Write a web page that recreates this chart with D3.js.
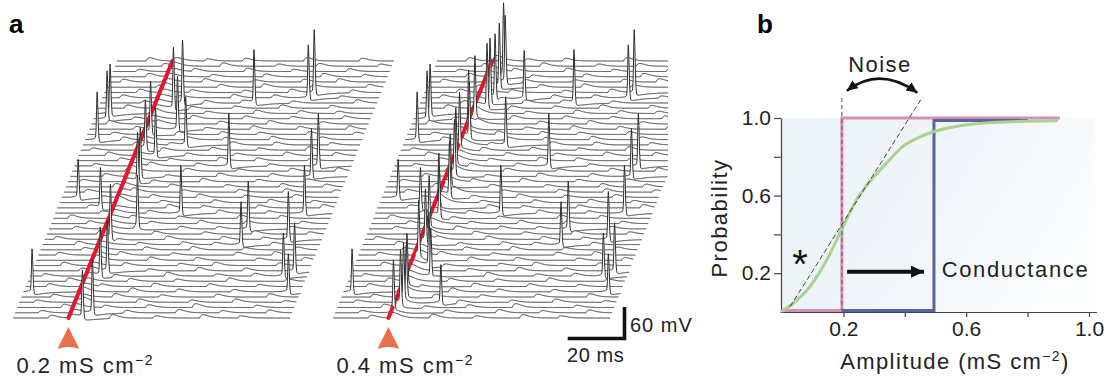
<!DOCTYPE html>
<html>
<head>
<meta charset="utf-8">
<script src="https://cdn.jsdelivr.net/npm/d3@7"></script>
<style>
  html, body { margin: 0; padding: 0; background: #fff; }
  svg { display: block; font-family: "Liberation Sans", Arial, Helvetica, sans-serif; }
</style>
</head>
<body>
<svg id="fig" width="1111" height="378"></svg>
<script>
// ---------------- Panel a data: stacked membrane-potential traces ----------------
const traceCount = 50;          // sweeps per stack
const traceDuration = 95;       // ms per sweep
const stimulusTime = 19;        // ms, time of the conductance pulse
const conductanceLabels = ["0.2", "0.4"];   // mS cm-2
const stimulusPsp = [6, 10];    // mV, subthreshold response to the pulse

// spontaneous spikes, identical in both stacks: [sweep, time ms, amplitude mV]
const backgroundSpikes = [
  [5, 2.9, 73], [23, 5.6, 64], [34, 4.1, 82], [38, 4.6, 82], [39, 4.9, 85],
  [21, 14.7, 67], [29, 52.9, 91], [41, 52.8, 91], [42, 70.7, 91], [43, 72.0, 109],
  [29, 83.6, 91], [27, 82.7, 82], [20, 85.4, 82], [17, 68.3, 82], [14, 68.0, 73],
  [15, 83.5, 82], [8, 86.9, 73], [9, 90.0, 82], [5, 90.8, 64], [20, 43.0, 82],
  [33, 35.2, 82]
];

// spikes evoked by the pulse: [sweep, time ms, amplitude mV]
const evokedSpikesLow = [
  [0, 23.8, 80], [1, 26.5, 91], [8, 24.1, 82], [9, 25.8, 87], [15, 22.5, 91],
  [17, 30.3, 87], [26, 23.8, 82], [27, 24.0, 82], [31, 26.3, 82], [32, 22.1, 82],
  [35, 21.7, 87], [36, 30.2, 91], [40, 25.9, 105], [41, 28.3, 109]
];
const evokedSpikesHigh = [
  [1, 20.0, 82], [2, 21.7, 91], [3, 22.0, 91], [4, 22.2, 82], [3, 34.8, 64],
  [6, 21.0, 82], [8, 27.7, 82], [10, 25.6, 91], [11, 21.4, 91], [14, 21.5, 87],
  [17, 20.6, 82], [19, 22.6, 82], [21, 21.0, 87], [23, 23.2, 91], [25, 22.0, 82],
  [27, 22.0, 91], [29, 21.0, 91], [32, 20.1, 91], [34, 22.0, 91], [36, 20.3, 91],
  [38, 21.0, 100], [40, 23.7, 109], [41, 24.0, 109], [42, 25.0, 109], [42, 35.0, 82],
  [44, 25.0, 109], [45, 26.3, 115], [46, 25.0, 127]
];

// synaptic potentials per sweep: [time ms, amplitude mV]
const synapticBumps = [
  [[12,5],[33,7],[48,4],[64,6],[77,4]],
  [[8,4],[37,5],[55,6],[70,4],[86,5]],
  [[15,6],[29,4],[44,5],[60,7],[81,4]],
  [[5,4],[21,5],[40,6],[58,4],[73,6],[90,3]],
  [[10,5],[31,6],[47,4],[66,5],[84,6]],
  [[18,4],[36,7],[52,5],[71,4]],
  [[7,5],[25,4],[43,6],[62,5],[79,4]],
  [[13,6],[34,5],[50,4],[68,6],[88,4]],
  [[4,4],[28,5],[46,7],[63,4],[76,5]],
  [[16,5],[39,4],[56,6],[72,5]],
  [[9,6],[30,5],[49,4],[61,6],[83,5]],
  [[20,4],[38,6],[54,5],[75,4],[91,5]],
  [[6,5],[27,6],[45,4],[67,5],[80,6]],
  [[14,4],[35,5],[51,6],[69,4],[87,5]],
  [[11,6],[32,4],[47,5],[58,4],[78,5]],
  [[3,5],[24,4],[41,6],[60,5],[74,4]],
  [[17,6],[36,5],[53,4],[70,6],[89,4]],
  [[8,4],[29,6],[44,5],[57,4],[82,5]],
  [[12,5],[33,4],[50,6],[66,5],[85,4]],
  [[5,6],[26,5],[42,4],[63,6],[77,5]],
  [[15,4],[31,5],[55,6],[72,4]],
  [[10,5],[37,6],[49,4],[68,5],[90,6]],
  [[19,6],[34,4],[52,5],[71,6],[86,4]],
  [[13,4],[30,5],[46,6],[62,4],[79,5]],
  [[7,5],[23,6],[40,4],[59,5],[75,6],[92,4]],
  [[16,6],[35,5],[54,4],[73,6],[88,5]],
  [[4,4],[28,5],[45,6],[64,4],[81,5]],
  [[11,5],[32,4],[50,6],[68,5]],
  [[18,6],[38,5],[56,4],[74,5],[90,6]],
  [[6,4],[25,6],[41,5],[66,4]],
  [[14,5],[31,4],[48,6],[61,5],[79,4]],
  [[9,6],[36,5],[53,4],[70,6],[87,5]],
  [[3,4],[27,6],[44,5],[60,4],[77,6]],
  [[17,5],[29,4],[50,6],[65,5],[84,4]],
  [[12,6],[34,5],[47,4],[63,6],[80,5]],
  [[8,4],[30,6],[45,5],[58,4],[75,5],[91,4]],
  [[15,5],[39,4],[55,6],[71,5],[88,6]],
  [[5,6],[22,4],[43,5],[60,6],[78,4]],
  [[13,4],[33,6],[51,5],[67,4],[85,5]],
  [[18,5],[37,4],[54,6],[69,5],[82,4]],
  [[9,6],[31,5],[46,4],[62,6],[79,5]],
  [[14,4],[35,6],[48,5],[65,4],[87,6]],
  [[6,5],[26,4],[44,6],[58,5],[81,4]],
  [[11,6],[29,5],[47,4],[63,6],[84,5]],
  [[17,4],[38,5],[53,6],[70,4],[89,5]],
  [[4,5],[32,6],[49,4],[66,5],[78,6]],
  [[12,6],[34,4],[52,5],[72,6],[86,4]],
  [[8,4],[27,5],[45,6],[61,4],[80,5]],
  [[16,5],[36,6],[55,4],[69,5],[90,4]],
  [[10,6],[30,4],[43,5],[64,6],[83,5]]
];

const scaleBarTime = 20;   // ms
const scaleBarVolt = 60;   // mV

// ---------------- Panel b data: detection probability ----------------
const probTicks = [0.2, 0.4, 0.6, 0.8, 1.0];
const probTickLabels = ["0.2", "", "0.6", "", "1.0"];
const ampTicks = [0.2, 0.4, 0.6, 0.8, 1.0];
const ampTickLabels = ["0.2", "", "0.6", "", "1.0"];
const thresholdStep = [[0, 0.008], [0.195, 0.008], [0.195, 1.0], [0.905, 1.0]];
const shiftedStep = [[0.195, 0.008], [0.495, 0.008], [0.495, 0.987], [0.8, 0.987]];
const noisyResponse = [
  [0, 0.005], [0.037, 0.045], [0.091, 0.131], [0.146, 0.269], [0.194, 0.424],
  [0.243, 0.579], [0.287, 0.674], [0.341, 0.769], [0.395, 0.855], [0.45, 0.903],
  [0.493, 0.929], [0.58, 0.96], [0.688, 0.977], [0.895, 0.986]
];
const noiseSlope = [[0.026, 0.027], [0.458, 1.109]];
const thresholdMarker = [[0.195, 0], [0.195, 1.12]];
const noiseArc = [[0.211, 1.14], [0.319, 1.27], [0.441, 1.13]];
const conductanceArrow = [[0.212, 0.208], [0.482, 0.208]];

// ---------------- drawing ----------------
const svg = d3.select("#fig");
const defs = svg.append("defs");
const ink = "#222";
const labelFont = 22;

// waveform pieces
function psp(s, amp, tau) {
  return s <= 0 ? 0 : amp * (s / tau) * Math.exp(1 - s / tau);
}
function spikeWave(s, amp) {
  if (s < 0) return amp * Math.exp(-((s / 0.28) ** 2)) + 5 * Math.exp(s / 1.2);
  return amp * Math.exp(-((s / 0.42) ** 2)) + 5 * Math.exp(-s / 0.35)
    - 7 * (1 - Math.exp(-s / 0.5)) * Math.exp(-s / 5);
}
function voltageAt(t, bumps, spikes, pulse) {
  let v = psp(t - stimulusTime, pulse, 1.6);
  for (const [tb, a] of bumps) v += psp(t - tb, a, 1.3);
  for (const [ts, a] of spikes) v += spikeWave(t - ts, a);
  return v;
}

const sweepWidth = 277;
const tScale = d3.scaleLinear().domain([0, traceDuration]).range([0, sweepWidth]);
const vScale = d3.scaleLinear().domain([0, 100]).range([0, -55]);
const rowY = d3.scaleLinear().domain([0, traceCount - 1]).range([318, 61]);
const sampleTimes = d3.range(0, traceDuration + 1e-9, 0.1);

const traceLine = d3.line().x(d => tScale(d[0])).y(d => vScale(d[1]));
const traceArea = d3.area().x(d => tScale(d[0])).y0(vScale(-8)).y1(d => vScale(d[1]));

const stacks = [
  { left: 13, top: 117, evoked: evokedSpikesLow, pulse: stimulusPsp[0], label: conductanceLabels[0], clipRight: null },
  { left: 333, top: 437, evoked: evokedSpikesHigh, pulse: stimulusPsp[1], label: conductanceLabels[1], clipRight: 668 }
];

stacks.forEach((st, k) => {
  const rowX = d3.scaleLinear().domain([0, traceCount - 1]).range([st.left, st.top]);
  const g = svg.append("g");
  if (st.clipRight) {
    defs.append("clipPath").attr("id", "stackClip" + k)
      .append("rect").attr("x", 0).attr("y", 0).attr("width", st.clipRight).attr("height", 378);
    g.attr("clip-path", `url(#stackClip${k})`);
  }
  for (let i = traceCount - 1; i >= 0; i--) {
    const spikes = backgroundSpikes.concat(st.evoked)
      .filter(s => s[0] === i).map(s => [s[1], s[2]]);
    const pts = sampleTimes.map(t => [t, voltageAt(t, synapticBumps[i], spikes, st.pulse)]);
    const row = g.append("g").attr("transform", `translate(${rowX(i)},${rowY(i)})`);
    row.append("path").attr("d", traceArea(pts)).attr("fill", "#fff");
    row.append("path").attr("d", traceLine(pts))
      .attr("fill", "none").attr("stroke", "#2e2e2e")
      .attr("stroke-width", 1).attr("stroke-linejoin", "round");
    if (i < traceCount - 1) {
      g.append("line")
        .attr("x1", rowX(i) + tScale(stimulusTime)).attr("y1", rowY(i))
        .attr("x2", rowX(i + 1) + tScale(stimulusTime)).attr("y2", rowY(i + 1))
        .attr("stroke", "#e3182d").attr("stroke-width", 4).attr("stroke-linecap", "round");
    }
  }
  // stimulus marker and amplitude label
  const ax = rowX(0) + tScale(stimulusTime);
  const p = d3.path();
  p.moveTo(ax, 327); p.lineTo(ax + 11, 349); p.quadraticCurveTo(ax, 345, ax - 11, 349); p.closePath();
  svg.append("path").attr("d", p.toString()).attr("fill", "#e8714d");
  const lab = svg.append("text").attr("x", ax - 52).attr("y", 373)
    .attr("font-size", labelFont).attr("letter-spacing", 1.5).attr("fill", ink);
  lab.append("tspan").text(st.label + " mS cm");
  lab.append("tspan").attr("dy", -8).attr("font-size", 14).text("\u22122");
});

// scale bar
const sb = svg.append("g").attr("transform", "translate(626,340)");
sb.append("line").attr("x1", -tScale(scaleBarTime)).attr("x2", 0).attr("y1", -1.5).attr("y2", -1.5)
  .attr("stroke", "#111").attr("stroke-width", 3.6);
sb.append("line").attr("x1", -1.5).attr("x2", -1.5).attr("y1", 0).attr("y2", vScale(scaleBarVolt))
  .attr("stroke", "#111").attr("stroke-width", 3.6);
sb.append("text").attr("x", 4).attr("y", -8).attr("font-size", 20).attr("letter-spacing", 1)
  .attr("fill", ink).text(scaleBarVolt + " mV");
sb.append("text").attr("x", -59).attr("y", 22).attr("font-size", 20).attr("letter-spacing", 0.6)
  .attr("fill", ink).text(scaleBarTime + " ms");

// panel letters
svg.append("text").attr("x", 9).attr("y", 33).attr("font-size", 26).attr("font-weight", "bold").text("a");
svg.append("text").attr("x", 757).attr("y", 33).attr("font-size", 26).attr("font-weight", "bold").text("b");

// ---------------- Panel b ----------------
const xAmp = d3.scaleLinear().domain([0, 1]).range([782, 1089]);
const yProb = d3.scaleLinear().domain([0, 1]).range([312, 118]);

const grad = defs.append("linearGradient").attr("id", "plotBg")
  .attr("x1", "0").attr("y1", "0.3").attr("x2", "1").attr("y2", "0.7");
grad.append("stop").attr("offset", "0").attr("stop-color", "#eaf1f7");
grad.append("stop").attr("offset", "0.55").attr("stop-color", "#f3f6fa");
grad.append("stop").attr("offset", "1").attr("stop-color", "#fdfeff");

svg.append("rect")
  .attr("x", xAmp(0)).attr("y", yProb(1))
  .attr("width", xAmp(1.02) - xAmp(0)).attr("height", yProb(0) - yProb(1))
  .attr("fill", "url(#plotBg)");

const pb = svg.append("g");
const yAxisG = pb.append("g").attr("transform", `translate(${xAmp(0) - 1},0)`)
  .call(d3.axisLeft(yProb).tickValues(probTicks).tickSize(7).tickSizeOuter(0).tickPadding(3)
    .tickFormat((d, i) => probTickLabels[i]));
const xAxisG = pb.append("g").attr("transform", `translate(0,${yProb(0)})`)
  .call(d3.axisBottom(xAmp).tickValues(ampTicks).tickSize(5).tickSizeOuter(0).tickPadding(4)
    .tickFormat((d, i) => ampTickLabels[i]));
xAxisG.select(".domain").remove();
xAxisG.append("line").attr("x1", xAmp(0) - 1.5).attr("x2", xAmp(1.026)).attr("y1", 0.5).attr("y2", 0.5)
  .attr("stroke", "#444").attr("stroke-width", 1.2);
[yAxisG, xAxisG].forEach(ax => {
  ax.attr("font-family", null).attr("font-size", 21);
  ax.selectAll(".domain, .tick line").attr("stroke", "#444").attr("stroke-width", 1.2);
  ax.selectAll(".tick text").attr("fill", ink);
});

const stepLine = d3.line().x(d => xAmp(d[0])).y(d => yProb(d[1]));
pb.append("path").attr("d", stepLine(thresholdStep)).attr("fill", "none")
  .attr("stroke", "#d48fb2").attr("stroke-width", 3);
pb.append("path").attr("d", stepLine(shiftedStep)).attr("fill", "none")
  .attr("stroke", "#56649f").attr("stroke-width", 3);
pb.append("path").attr("d", d3.line().x(d => xAmp(d[0])).y(d => yProb(d[1])).curve(d3.curveMonotoneX)(noisyResponse))
  .attr("fill", "none").attr("stroke", "#a6d38d").attr("stroke-width", 3).attr("stroke-linecap", "round");
pb.append("path").attr("d", stepLine(thresholdMarker)).attr("fill", "none")
  .attr("stroke", "#6e6e6e").attr("stroke-width", 1.2).attr("stroke-dasharray", "4,3");
pb.append("path").attr("d", stepLine(noiseSlope)).attr("fill", "none")
  .attr("stroke", "#444").attr("stroke-width", 1).attr("stroke-dasharray", "5,3");

// arrowheads
function arrowMarker(id, len, half) {
  defs.append("marker").attr("id", id)
    .attr("viewBox", `0 ${-half} ${len} ${2 * half}`)
    .attr("refX", len).attr("refY", 0)
    .attr("markerWidth", len).attr("markerHeight", 2 * half)
    .attr("markerUnits", "userSpaceOnUse")
    .attr("orient", "auto-start-reverse")
    .append("path").attr("d", `M0,${-half}L${len},0L0,${half}Z`).attr("fill", "#111");
}
arrowMarker("arrowNoise", 11, 5);
arrowMarker("arrowCond", 13, 6);

const arcPath = d3.path();
arcPath.moveTo(xAmp(noiseArc[0][0]), yProb(noiseArc[0][1]));
arcPath.quadraticCurveTo(xAmp(noiseArc[1][0]), yProb(noiseArc[1][1]), xAmp(noiseArc[2][0]), yProb(noiseArc[2][1]));
pb.append("path").attr("d", arcPath.toString()).attr("fill", "none")
  .attr("stroke", "#111").attr("stroke-width", 2.6)
  .attr("marker-start", "url(#arrowNoise)").attr("marker-end", "url(#arrowNoise)");

pb.append("line")
  .attr("x1", xAmp(conductanceArrow[0][0])).attr("y1", yProb(conductanceArrow[0][1]))
  .attr("x2", xAmp(conductanceArrow[1][0]) - 6).attr("y2", yProb(conductanceArrow[1][1]))
  .attr("stroke", "#111").attr("stroke-width", 4)
  .attr("marker-end", "url(#arrowCond)");

// annotations
pb.append("text").attr("x", xAmp(0.52)).attr("y", yProb(conductanceArrow[0][1]) + 5.5)
  .attr("font-size", labelFont).attr("textLength", 146).attr("lengthAdjust", "spacing")
  .attr("fill", ink).text("Conductance");
pb.append("text").attr("x", xAmp(noiseArc[1][0])).attr("y", 72).attr("text-anchor", "middle")
  .attr("font-size", labelFont).attr("letter-spacing", 1.4).attr("fill", ink).text("Noise");
pb.append("text").attr("x", xAmp(0.059)).attr("y", 278).attr("text-anchor", "middle")
  .attr("font-size", 40).attr("fill", "#111").text("*");

pb.append("text").attr("transform", `translate(727,${(yProb(0) + yProb(1)) / 2 + 3}) rotate(-90)`)
  .attr("text-anchor", "middle").attr("font-size", labelFont).attr("letter-spacing", 1.5)
  .attr("fill", ink).text("Probability");

const xl = pb.append("text").attr("x", 955).attr("y", 369).attr("text-anchor", "middle")
  .attr("font-size", labelFont).attr("letter-spacing", 1.4).attr("fill", ink);
xl.append("tspan").text("Amplitude (mS cm");
xl.append("tspan").attr("dy", -8).attr("font-size", 14).text("\u22122");
xl.append("tspan").attr("dy", 8).text(")");
</script>
</body>
</html>
